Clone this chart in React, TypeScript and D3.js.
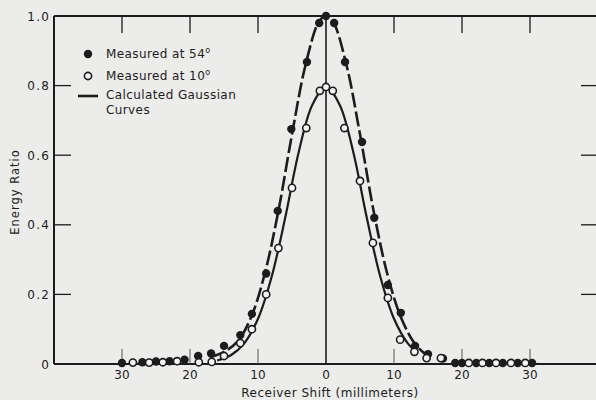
import React, { useEffect, useRef } from "react";
import * as d3 from "d3";

// measured points, 54 degree incidence (filled dots)
const shift54 = [-30, -27, -25, -23, -20.8, -18.8, -16.9, -15, -12.6, -10.9, -8.8, -7.1, -5.1, -2.8, -1, 0, 1.2, 2.8, 5.3, 7.1, 9.1, 11, 13.1, 15, 17.2, 19, 20, 22.1, 24, 26, 28.2, 30.3];
const ratio54 = [0.003, 0.005, 0.007, 0.008, 0.012, 0.023, 0.03, 0.052, 0.083, 0.144, 0.26, 0.44, 0.675, 0.868, 0.98, 1.0, 0.98, 0.868, 0.638, 0.42, 0.227, 0.147, 0.052, 0.028, 0.016, 0.003, 0.003, 0.003, 0.003, 0.003, 0.003, 0.003];

// measured points, 10 degree incidence (open dots)
const shift10 = [-28.4, -26, -24, -21.9, -18.7, -16.8, -15, -12.6, -10.9, -8.8, -7, -5, -2.9, -0.9, 0, 1, 2.7, 5, 6.9, 9.1, 10.9, 13, 14.8, 16.9, 21, 23, 25, 27.2, 29.3];
const ratio10 = [0.004, 0.004, 0.005, 0.008, 0.005, 0.006, 0.023, 0.06, 0.1, 0.2, 0.333, 0.506, 0.678, 0.785, 0.796, 0.785, 0.678, 0.526, 0.348, 0.19, 0.07, 0.035, 0.017, 0.017, 0.003, 0.003, 0.003, 0.003, 0.003];

// calculated curves
const curve54X = [-17, -15, -13, -11, -9, -7, -5, -3, -1, 0, 1, 3, 5, 7, 9, 11, 13, 14.5];
const curve54Y = [0.02, 0.035, 0.065, 0.135, 0.26, 0.44, 0.66, 0.86, 0.985, 1.0, 0.985, 0.86, 0.66, 0.44, 0.26, 0.135, 0.06, 0.03];
const curve10X = [-16, -14, -12, -10, -8, -6, -4, -2, 0, 2, 4, 6, 8, 10, 12, 13];
const curve10Y = [0.01, 0.025, 0.06, 0.13, 0.25, 0.42, 0.61, 0.745, 0.796, 0.745, 0.61, 0.42, 0.25, 0.13, 0.06, 0.04];

const yTicks = [0, 0.2, 0.4, 0.6, 0.8, 1.0];
const xTicks = [-30, -20, -10, 0, 10, 20, 30];

const W = 596;
const H = 400;
const ink = "#1c1c1c";
const font = "'DejaVu Sans', sans-serif";

const App = () => {
  const svgRef = useRef(null);

  useEffect(() => {
    const svg = d3.select(svgRef.current);
    svg.selectAll("*").remove();

    const x = d3.scaleLinear().domain([-40, 40]).range([54, 598]);
    const y = d3.scaleLinear().domain([0, 1]).range([364, 16]);

    svg.append("rect").attr("width", W).attr("height", H).attr("fill", "#ececea");

    const g = svg.append("g");

    // frame
    g.append("line").attr("x1", x(-40)).attr("x2", x(40)).attr("y1", y(1)).attr("y2", y(1))
      .attr("stroke", ink).attr("stroke-width", 2);
    g.append("line").attr("x1", x(-40)).attr("x2", x(-40)).attr("y1", y(1)).attr("y2", y(0))
      .attr("stroke", ink).attr("stroke-width", 2);
    g.append("line").attr("x1", x(-40)).attr("x2", x(40)).attr("y1", y(0)).attr("y2", y(0))
      .attr("stroke", ink).attr("stroke-width", 2);
    g.append("line").attr("x1", x(0)).attr("x2", x(0)).attr("y1", y(1)).attr("y2", y(0))
      .attr("stroke", ink).attr("stroke-width", 1.6);

    const sideTicks = yTicks.filter((v) => v > 0 && v < 1);
    g.selectAll(".ltick").data(sideTicks).join("line")
      .attr("x1", x(-40)).attr("x2", x(-40) + 17)
      .attr("y1", (d) => y(d)).attr("y2", (d) => y(d))
      .attr("stroke", ink).attr("stroke-width", 1.3);
    g.selectAll(".rtick").data(sideTicks).join("line")
      .attr("x1", x(40) - 17).attr("x2", x(40))
      .attr("y1", (d) => y(d)).attr("y2", (d) => y(d))
      .attr("stroke", ink).attr("stroke-width", 1.3);

    const edgeTicks = xTicks.filter((v) => v !== 0);
    g.selectAll(".ttick").data(edgeTicks).join("line")
      .attr("x1", (d) => x(d)).attr("x2", (d) => x(d))
      .attr("y1", y(1)).attr("y2", y(1) + 17)
      .attr("stroke", ink).attr("stroke-width", 1.3);
    g.selectAll(".btick").data(edgeTicks).join("line")
      .attr("x1", (d) => x(d)).attr("x2", (d) => x(d))
      .attr("y1", y(0)).attr("y2", y(0) - 15)
      .attr("stroke", "#555").attr("stroke-width", 1);

    // tick labels
    g.selectAll(".ylab").data(yTicks).join("text")
      .attr("x", 50).attr("y", (d) => y(d) + 4.5)
      .attr("text-anchor", "end")
      .attr("font-family", font).attr("font-size", 12).attr("letter-spacing", 1.2)
      .attr("fill", ink)
      .text((d) => (d === 0 ? "0" : d.toFixed(1)));
    g.selectAll(".xlab").data(xTicks).join("text")
      .attr("x", (d) => x(d)).attr("y", 379)
      .attr("text-anchor", "middle")
      .attr("font-family", font).attr("font-size", 12)
      .attr("fill", ink)
      .text((d) => String(Math.abs(d)));

    // axis titles
    g.append("text").attr("x", 330).attr("y", 397).attr("text-anchor", "middle")
      .attr("font-family", font).attr("font-size", 12).attr("letter-spacing", 0.5)
      .attr("fill", ink).text("Receiver Shift (millimeters)");
    g.append("text").attr("transform", "translate(19,192) rotate(-90)").attr("text-anchor", "middle")
      .attr("font-family", font).attr("font-size", 11.5).attr("letter-spacing", 1)
      .attr("fill", ink).text("Energy Ratio");

    // curves
    const line = d3.line<[number, number]>()
      .x((d) => x(d[0])).y((d) => y(d[1]))
      .curve(d3.curveCatmullRom.alpha(0.5));
    g.append("path").datum(d3.zip(curve54X, curve54Y) as [number, number][])
      .attr("d", line).attr("fill", "none").attr("stroke", ink)
      .attr("stroke-width", 2.6).attr("stroke-dasharray", "15,4");
    g.append("path").datum(d3.zip(curve10X, curve10Y) as [number, number][])
      .attr("d", line).attr("fill", "none").attr("stroke", ink)
      .attr("stroke-width", 2.2);

    // points
    g.selectAll(".p54").data(d3.zip(shift54, ratio54)).join("circle")
      .attr("cx", (d) => x(d[0])).attr("cy", (d) => y(d[1])).attr("r", 4.2)
      .attr("fill", ink);
    g.selectAll(".p10").data(d3.zip(shift10, ratio10)).join("circle")
      .attr("cx", (d) => x(d[0])).attr("cy", (d) => y(d[1])).attr("r", 3.6)
      .attr("fill", "#f4f4f2").attr("stroke", ink).attr("stroke-width", 1.6);

    // legend
    const leg = g.append("g").attr("font-family", font).attr("font-size", 12)
      .attr("letter-spacing", 0.4).attr("fill", ink);
    leg.append("circle").attr("cx", 88).attr("cy", 54).attr("r", 4.2).attr("fill", ink);
    leg.append("circle").attr("cx", 88).attr("cy", 76).attr("r", 3.6)
      .attr("fill", "#f4f4f2").attr("stroke", ink).attr("stroke-width", 1.6);
    leg.append("line").attr("x1", 78).attr("x2", 98).attr("y1", 96).attr("y2", 96)
      .attr("stroke", ink).attr("stroke-width", 2.6);
    const t1 = leg.append("text").attr("x", 106).attr("y", 58);
    t1.append("tspan").text("Measured at 54");
    t1.append("tspan").attr("dy", -5).attr("font-size", 8).text("o");
    const t2 = leg.append("text").attr("x", 106).attr("y", 80);
    t2.append("tspan").text("Measured at 10");
    t2.append("tspan").attr("dy", -5).attr("font-size", 8).text("o");
    leg.append("text").attr("x", 106).attr("y", 99).text("Calculated Gaussian");
    leg.append("text").attr("x", 106).attr("y", 114).text("Curves");
  }, []);

  return (
    <svg
      ref={svgRef}
      width={W}
      height={H}
      style={{ position: "absolute", left: 0, top: 0, display: "block" }}
    ></svg>
  );
};

export default App;
